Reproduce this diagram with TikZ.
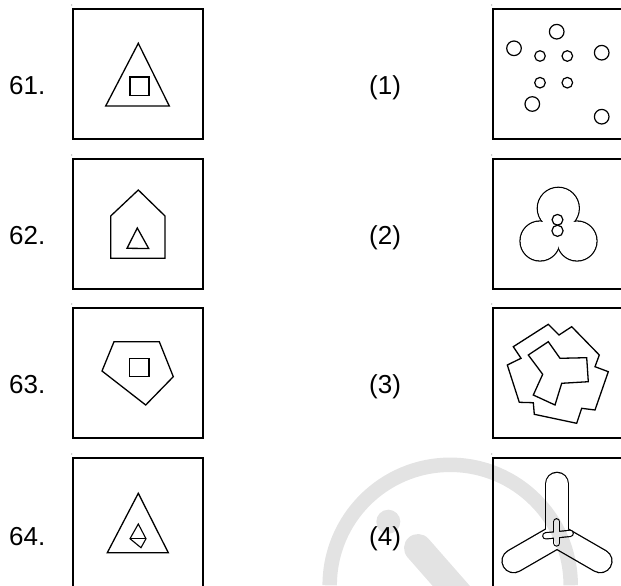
\documentclass[tikz,border=0pt]{standalone}
\usepackage{fontspec}
\setmainfont{Liberation Sans}
\begin{document}
\begin{tikzpicture}[x=1pt,y=-1pt,
  frame/.style={draw=black,line width=1.5pt},
  fig/.style={draw=black,line width=1.3pt,line join=miter},
  lbl/.style={font=\fontsize{26}{30}\selectfont,inner sep=0pt,anchor=base west},
  speck/.style={fill=black!45}]
\useasboundingbox (0,0) rectangle (621,586);
% boxes
\foreach \n/\x/\y in {a1/73/9,a2/73/159,a3/73/308,a4/73/458,b1/493/9,b2/493/159,b3/493/308,b4/493/458}{
  \draw[frame] (\x,\y) rectangle ++(130,130);
  \fill[speck] (\x-1.3,\y-4) circle[radius=0.6pt];
}
% labels
\node[lbl] (l61) at (9,94) {61.};
\node[lbl] (l62) at (9,244) {62.};
\node[lbl] (l63) at (9,393.5) {63.};
\node[lbl] (l64) at (9,545) {64.};
\node[lbl] (r1) at (369,94) {(1)};
\node[lbl] (r2) at (369,244) {(2)};
\node[lbl] (r3) at (369,393.5) {(3)};
\node[lbl] (r4) at (369,545) {(4)};
% 61
\draw[fig] (138.3,43.3) -- (105.7,106) -- (169.3,106) -- cycle;
\draw[fig] (130,77) rectangle (149,95.5);
% 62
\draw[fig] (138.3,190) -- (165,216) -- (165,258.3) -- (110.7,258.3) -- (110.7,216) -- cycle;
\draw[fig] (137.3,228) -- (148.7,248.5) -- (127,248.3) -- cycle;
% 63
\draw[fig] (114,341.7) -- (159.3,341.7) -- (173.3,376.7) -- (145.7,405) -- (102,371) -- cycle;
\draw[fig] (129.7,358.3) rectangle (149,376.7);
% 64
\draw[fig] (138.3,493.3) -- (168.3,552.7) -- (107.3,552.7) -- cycle;
\draw[fig,line width=1.1pt] (138.3,524) -- (146,538.7) -- (141,547.7) -- (130,538.7) -- cycle;
\draw[fig,line width=1.1pt] (130,538.7) -- (146,538.7);
% (1) circles
\foreach \cx/\cy/\r in {556.7/31.7/7.3,514/48.3/7.3,540/56/5.3,567.3/56/5.3,601.7/52.7/7.3,540/82.7/5.3,567.3/82.7/5.3,532.3/104/7.3,601.7/116.7/7.3}{
  \draw[fig,line width=1.2pt] (\cx,\cy) circle[radius=\r pt];
}
% (2) trefoil
\foreach \cx/\cy/\r in {558.3/208.3/21,540/241/20,577/241/20}{
  \draw[line width=1.3pt] (\cx,\cy) circle[radius=\r pt];
}
\foreach \cx/\cy/\r in {558.3/208.3/21,540/241/20,577/241/20,558.3/228/12}{
  \fill[white] (\cx,\cy) circle[radius=\r pt-0.65pt];
}
\draw[fig,line width=1.2pt] (557.5,219.8) circle[radius=5.4pt];
\draw[fig,line width=1.2pt] (557.5,230.8) circle[radius=5.6pt];
% (3)
\draw[fig] (513.3,346.7) -- (548.3,324.3) -- (559,335) -- (571.7,326.7) -- (599.3,355) -- (595,366.7) -- (608.3,371.7) -- (595,410) -- (581.7,408.3) -- (576.7,423.3) -- (534.3,414.3) -- (533.3,402.7) -- (519.3,402.3) -- (507.3,365) -- (521,358.3) -- cycle;
\draw[fig] (528.3,355) -- (548.3,341.7) -- (560,358.3) -- (586.7,357.7) -- (588.3,381.7) -- (561.7,383.3) -- (555,405) -- (533.3,395) -- (542.7,374.3) -- cycle;
% (4) propeller
\coordinate (hub) at (557,536);
\coordinate (armT) at (557,484);
\coordinate (armL) at (513.7,561);
\coordinate (armR) at (600.3,561);
\foreach \e in {armT,armL,armR}{\draw[line width=24.7pt,line cap=round] (hub) -- (\e);}
\foreach \e in {armT,armL,armR}{\draw[white,line width=22.1pt,line cap=round] (hub) -- (\e);}
\coordinate (stT) at (556.7,521.8);
\coordinate (stB) at (556.7,543);
\coordinate (brL) at (545.8,535.8);
\coordinate (brR) at (570.2,533.4);
\draw[line width=7.4pt,line cap=round] (stT) -- (stB);
\draw[line width=7.4pt,line cap=round] (brL) -- (brR);
\draw[white,line width=5pt,line cap=round] (stT) -- (stB);
\draw[white,line width=5pt,line cap=round] (brL) -- (brR);
% watermark
\begin{scope}[blend mode=multiply]
\draw[black!11,line width=14.5pt] (329.7,585.3) arc[start angle=180,end angle=0,radius=120.5pt];
\fill[black!11] (388.3,521.7) circle[radius=12pt];
\draw[black!11,line width=28pt,line cap=round] (418,548) -- (468,605);
\end{scope}
\end{tikzpicture}
\end{document}
